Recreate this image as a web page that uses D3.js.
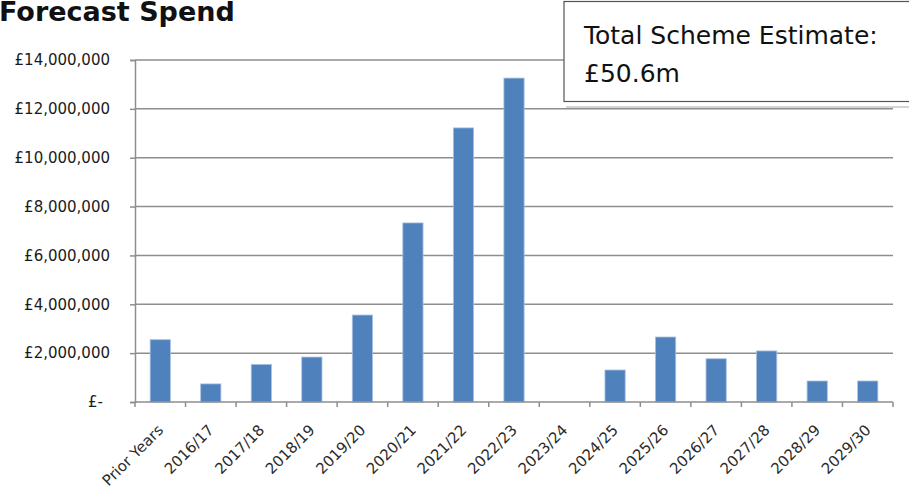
<!DOCTYPE html>
<html>
<head>
<meta charset="utf-8">
<script src="https://cdn.jsdelivr.net/npm/d3@7"></script>
<style>
  body { margin: 0; background: #fff; }
  svg { display: block; }
</style>
</head>
<body>
<svg></svg>
<script>
const categories = ["Prior Years", "2016/17", "2017/18", "2018/19", "2019/20", "2020/21", "2021/22",
  "2022/23", "2023/24", "2024/25", "2025/26", "2026/27", "2027/28", "2028/29", "2029/30"]
const spend = [2550000, 740000, 1540000, 1840000, 3560000, 7330000, 11220000,
  13260000, 0, 1310000, 2660000, 1770000, 2090000, 860000, 860000]
const yTicks = [0, 2000000, 4000000, 6000000, 8000000, 10000000, 12000000, 14000000]
const title = "Forecast Spend"
const noteLines = ["Total Scheme Estimate:", "£50.6m"]

const width = 909
const height = 490
const margin = { top: 60, right: 16, bottom: 88, left: 135 }

const svg = d3.select('svg')
  .attr('width', width)
  .attr('height', height)

const x = d3.scaleBand()
  .domain(categories)
  .range([margin.left, width - margin.right])
  .paddingInner(0.6)
  .paddingOuter(0.3)

const y = d3.scaleLinear()
  .domain([0, 14000000])
  .range([height - margin.bottom, margin.top])

const fmt = d3.format(",.0f")
const font = "'DejaVu Sans', sans-serif"

// gridlines
svg.append('g')
  .selectAll('line')
  .data(yTicks.slice(1))
  .enter().append('line')
    .attr('x1', margin.left)
    .attr('x2', width - margin.right)
    .attr('y1', d => y(d))
    .attr('y2', d => y(d))
    .style('stroke', '#8e8e8e')
    .style('stroke-width', 1.5)

// bars
svg.append('g')
  .selectAll('rect')
  .data(categories)
  .enter().append('rect')
    .attr('x', d => x(d))
    .attr('width', x.bandwidth())
    .attr('y', (d, i) => y(spend[i]))
    .attr('height', (d, i) => y(0) - y(spend[i]))
    .attr('fill', '#4f81bd')
    .style('stroke', '#a7c0e0')
    .style('stroke-width', 0.8)
    .style('display', (d, i) => spend[i] > 0 ? null : 'none')

// y axis
const yAxis = svg.append('g')
  .attr('transform', `translate(${margin.left},0)`)
  .call(d3.axisLeft(y).tickValues(yTicks).tickSize(5)
    .tickFormat(d => d === 0 ? "£-" : "£" + fmt(d)))
yAxis.select('.domain').style('stroke', '#8e8e8e').style('stroke-width', 1.5)
yAxis.selectAll('.tick line').style('stroke', '#8e8e8e').style('stroke-width', 1.5)
yAxis.selectAll('.tick text')
  .style('font-family', font)
  .style('font-size', '15px')
  .style('fill', '#1a1a1a')
  .attr('x', d => d === 0 ? -32 : -25)

// x axis, ticks sit on the band edges
const xAxis = svg.append('g')
  .attr('transform', `translate(0,${y(0)})`)
xAxis.append('line')
  .attr('x1', margin.left)
  .attr('x2', width - margin.right)
  .style('stroke', '#8e8e8e')
  .style('stroke-width', 1.5)
xAxis.selectAll('.edge')
  .data(categories.concat(["end"]))
  .enter().append('line')
    .attr('class', 'edge')
    .attr('x1', (d, i) => margin.left + i * x.step())
    .attr('x2', (d, i) => margin.left + i * x.step())
    .attr('y1', 0)
    .attr('y2', 5)
    .style('stroke', '#8e8e8e')
    .style('stroke-width', 1.5)

xAxis.selectAll('.lbl')
  .data(categories)
  .enter().append('text')
    .attr('class', 'lbl')
    .attr('transform', d => `translate(${x(d) + x.bandwidth() / 2 + 4},29) rotate(-45)`)
    .attr('text-anchor', 'end')
    .style('font-family', font)
    .style('font-size', '15px')
    .style('fill', '#2b2b2b')
    .text(d => d)

// title
svg.append('text')
  .attr('x', -1)
  .attr('y', 21)
  .style('font-family', font)
  .style('font-weight', 'bold')
  .style('font-size', '27px')
  .style('fill', '#111')
  .text(title)

// note box
const note = svg.append('g')
note.append('line')
  .attr('x1', 566).attr('x2', width)
  .attr('y1', 107).attr('y2', 107)
  .style('stroke', '#d4d4d4').style('stroke-width', 2)
note.append('rect')
  .attr('x', 564)
  .attr('y', 1.5)
  .attr('width', 350)
  .attr('height', 100)
  .attr('fill', '#fff')
  .style('stroke', '#555')
  .style('stroke-width', 1.2)
note.selectAll('text')
  .data(noteLines)
  .enter().append('text')
    .attr('x', 584)
    .attr('y', (d, i) => 44 + i * 38)
    .style('font-family', font)
    .style('font-size', '25px')
    .style('fill', '#111')
    .text(d => d)
</script>
</body>
</html>
